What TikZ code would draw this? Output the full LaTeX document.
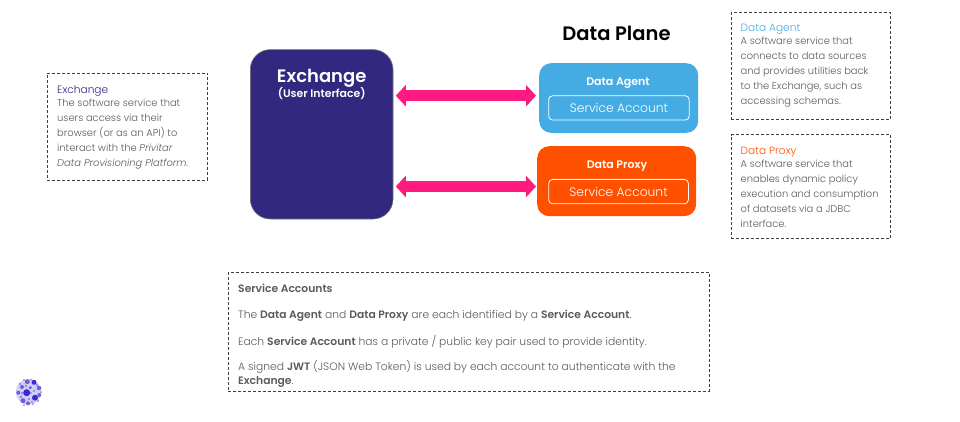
\documentclass[tikz,border=0pt]{standalone}
\usepackage{fontspec}
\setmainfont{Poppins}
\newfontfamily\lightf[ItalicFont={Poppins Light Italic},BoldFont={Poppins SemiBold}]{Poppins Light}
\newfontfamily\semif{Poppins SemiBold}
\usetikzlibrary{arrows.meta}
\definecolor{exch}{HTML}{32287F}
\definecolor{agent}{HTML}{45ABE3}
\definecolor{proxy}{HTML}{FF5000}
\definecolor{pinkarrow}{HTML}{FF1A80}
\definecolor{bodytext}{HTML}{5A5A5A}
\definecolor{logoblue}{HTML}{3A2BD0}
\newcommand{\hdr}[2]{{\fontsize{10.6}{15}\selectfont\textcolor{#1}{#2}}}
\tikzset{
 x=1pt,y=-1pt,
 panel/.style={draw=none,rectangle,inner sep=0pt,anchor=north west},
 notebox/.style={draw=black!75,line width=.7pt,dash pattern=on 3pt off 2pt,rectangle,inner sep=0pt,anchor=north west},
 svcbox/.style={draw=white,line width=.8pt,rounded corners=4pt,rectangle,inner sep=0pt,anchor=north west,minimum width=140.5pt,minimum height=24.4pt,text=white,font=\lightf\fontsize{12.3}{13}\selectfont},
 note/.style={anchor=north west,inner sep=0pt,align=left,text=bodytext,font=\lightf\fontsize{9.9}{15}\selectfont},
 title/.style={inner sep=0pt,text=white,font=\semif\fontsize{11}{12}\selectfont},
 twoway/.style={line width=10.5pt,pinkarrow,{Triangle[length=10pt,width=21pt]}-{Triangle[length=10pt,width=21pt]}},
 logodot/.style={fill=logoblue,draw=none},
}
\begin{document}
\begin{tikzpicture}
\useasboundingbox (0,0) rectangle (960,422);
% main boxes
\node[panel,fill=exch,draw=black!55,line width=.6pt,rounded corners=20pt,minimum width=142.7pt,minimum height=169.4pt] (ex) at (250,49.3) {};
\node[inner sep=0pt,text=white,font=\semif\fontsize{18}{20}\selectfont] (extitle) at (321.7,78) {Exchange};
\node[inner sep=0pt,text=white,font=\semif\fontsize{10.9}{12}\selectfont] (exsub) at (321.7,93.5) {(User Interface)};
\node[inner sep=0pt,font=\semif\fontsize{19.5}{22}\selectfont] (plane) at (616.5,33) {Data Plane};
\node[panel,fill=agent,rounded corners=12pt,minimum width=159pt,minimum height=69.7pt] (ag) at (539,63) {};
\node[title] (agt) at (618,83.5) {Data Agent};
\node[svcbox] (ags) at (548.3,95.3) {Service Account};
\node[panel,fill=proxy,rounded corners=12pt,minimum width=159pt,minimum height=70pt] (px) at (537,146) {};
\node[title] (pxt) at (617,166) {Data Proxy};
\node[svcbox,minimum width=139.7pt] (pxs) at (548.3,179) {Service Account};
% connectors
\coordinate (ra) at (0,95.7);
\coordinate (rb) at (0,186.5);
\draw[twoway,shorten <=2.5pt,shorten >=3pt] (ex.east |- ra) -- (ag.west |- ra);
\draw[twoway,shorten <=2.5pt,shorten >=1pt] (ex.east |- rb) -- (px.west |- rb);
% left note
\node[notebox,minimum width=160pt,minimum height=107.5pt] (n1) at (47,72.6) {};
\node[note] (n1t) at (57,85) {\hdr{exch}{Exchange}\\[-2pt]The software service that\\users access via their\\browser (or as an API) to\\interact with the \textit{Privitar}\\\textit{Data Provisioning Platform.}};
% right notes
\node[notebox,minimum width=159.4pt,minimum height=106.6pt] (n2) at (730.8,12.2) {};
\node[note] (n2t) at (740.5,24.3) {\hdr{agent}{Data Agent}\\[-2pt]A software service that\\connects to data sources\\and provides utilities back\\to the Exchange, such as\\accessing schemas.};
\node[notebox,minimum width=159.4pt,minimum height=103.6pt] (n3) at (730.8,134.2) {};
\node[note] (n3t) at (740.5,147) {\hdr{proxy}{Data Proxy}\\[-2pt]A software service that\\enables dynamic policy\\execution and consumption\\of datasets via a JDBC\\interface.};
% bottom note
\node[notebox,minimum width=481pt,minimum height=118.5pt] (n4) at (228,272) {};
\node[note,font=\lightf\fontsize{10.75}{13}\selectfont] (n4t) at (238,283.5) {\textbf{Service Accounts}\\[13pt]The \textbf{Data Agent} and \textbf{Data Proxy} are each identified by a \textbf{Service Account}.\\[13pt]Each \textbf{Service Account} has a private / public key pair used to provide identity.\\[12.5pt]A signed \textbf{JWT} (JSON Web Token) is used by each account to authenticate with the\\[1pt]\textbf{Exchange}.};
% logo
\fill[logoblue!22] (28.5,392) circle (12.8);
\foreach \x/\y/\r in {20/384/1.3,24/380/1.2,31/379.5/1,37/385/1.4,41/392/1,34/391/1.4,31/393/1.2,22/393/1.5,21/397/1.3,29/399/1.4,32/402/1.2,38/401/1.2,26/386/1.3,24/405/1,33/404/1}
  \fill[logoblue!55] (\x,\y) circle (\r);
\foreach \x/\y/\r in {27.3/381.7/2.5,22/387/2,39/388/2.3,18.3/392.7/2,23/400.7/2.5,28/403.3/2,30.3/387.7/1.7,39.3/395/2}
  \fill[logoblue!75] (\x,\y) circle (\r);
\foreach \x/\y/\r in {26.7/392.7/3.5,34/382.3/2.5,35/397.7/3}
  \fill[logodot] (\x,\y) circle (\r);
\end{tikzpicture}
\end{document}
